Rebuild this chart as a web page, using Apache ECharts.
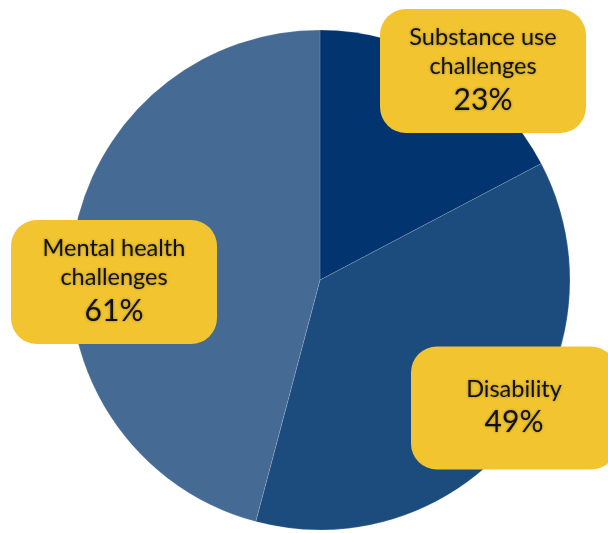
<!DOCTYPE html>
<html lang="en">
<head>
    <meta charset="UTF-8">
    <title>Challenges</title>
    <script src="https://cdn.jsdelivr.net/npm/echarts@6/dist/echarts.min.js"></script>
    <style type="text/css">
        html, body { margin:0; padding:0; background:#fff; }
        #main{ width:608px; height:533px; }
    </style>
</head>
<body>
<div id="main"></div>
<script type="application/javascript">
    var categories = ['Substance use\nchallenges', 'Disability', 'Mental health\nchallenges'];
    var values = [23, 49, 61];
    var colors = ['#02346f', '#1c4b7e', '#456a94'];

    // where each yellow box sits (centre)
    var labelPos = [[483, 71], [514, 408], [114, 282]];

    var myChart = echarts.init(document.getElementById('main'));

    myChart.setOption({
        animation:false,
        series:[{
            type:'pie',
            center:[320, 280],
            radius:250,
            startAngle:90,
            clockwise:true,
            silent:true,
            itemStyle:{
                borderColor:'rgba(255,255,255,0.25)',
                borderWidth:0.6
            },
            labelLine:{ show:false },
            label:{
                show:true,
                position:'outside',
                backgroundColor:'#f2c530',
                borderRadius:26,
                width:206,
                align:'center',
                color:'#111',
                fontFamily:'Lato',
                textShadowColor:'rgba(0,0,0,0.35)',
                textShadowBlur:3,
                formatter:function (p) {
                    var lines = p.name.split('\n').map(function (s) { return '{t|' + s + '}'; });
                    return lines.join('\n') + '\n{p|' + p.value + '%}';
                },
                rich:{
                    t:{ fontSize:23.5, lineHeight:29, fontFamily:'Lato', color:'#111', align:'center' },
                    p:{ fontSize:30, lineHeight:38, fontFamily:'Lato', color:'#111', align:'center' }
                }
            },
            labelLayout:function (params) {
                var pos = labelPos[params.dataIndex];
                return { x:pos[0], y:pos[1], align:'center', verticalAlign:'middle' };
            },
            data:categories.map(function (c, i) {
                var lineCount = c.split('\n').length;
                return {
                    name:c,
                    value:values[i],
                    itemStyle:{ color:colors[i] },
                    label:{ padding: lineCount === 2 ? [14, 0] : [28, 0] }
                };
            })
        }]
    });
</script>
</body>
</html>
